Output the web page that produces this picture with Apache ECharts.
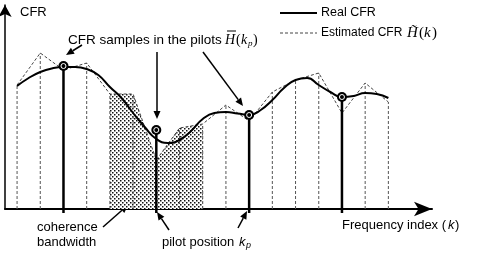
<!DOCTYPE html>
<html><head><meta charset="utf-8">
<script src="https://cdn.jsdelivr.net/npm/echarts@6/dist/echarts.min.js"></script>
<style>html,body{margin:0;padding:0;background:#fff}#c{width:485px;height:253px}</style>
</head><body><div id="c"></div>
<script>
// ---- data ----
const realK = [0,0.5,1,1.5,2,2.5,3,3.5,4,4.5,5,5.5,6,6.5,7,7.5,8,8.5,9,9.5,10,10.5,11,11.5,12,12.5,13,13.5,14,14.5,15,15.5,16];
const realCFR = [6.15,6.55,6.85,7.03,7.10,7.10,7.00,6.70,6.10,5.55,4.80,4.10,3.50,3.30,3.45,3.90,4.50,4.80,4.85,4.78,4.70,4.95,5.45,6.05,6.45,6.55,6.20,5.85,5.60,5.65,5.80,5.75,5.55];
const estK = [0,1,2,3,4,5,6,7,8,9,10,11,12,13,14,15,16];
const estCFR = [6.20,7.80,6.95,7.30,5.75,5.75,2.45,4.05,4.25,5.20,4.40,5.85,6.45,6.80,4.80,6.30,5.35];
const pilotK = [2,6,10,14];
const pilotCFR = [7.15,3.95,4.70,5.60];
const cohStart = 4, cohEnd = 8;   // coherence bandwidth M (in subcarriers)
const seriesNames = ['Real CFR','Estimated CFR'];

// ---- derived ----
const realData = realK.map((k,i)=>[k,realCFR[i]]);
const estData = estK.map((k,i)=>[k,estCFR[i]]);
const cohData = estData.filter(d=>d[0]>=cohStart && d[0]<=cohEnd);
const gridData = estData.filter(d=>pilotK.indexOf(d[0])<0);
const pilotData = pilotK.map((k,i)=>[k,pilotCFR[i]]);

// dotted pattern
const pc = document.createElement('canvas'); pc.width=4; pc.height=4;
const pctx = pc.getContext('2d'); pctx.fillStyle='#fff'; pctx.fillRect(0,0,4,4);
pctx.fillStyle='#111'; pctx.fillRect(0,0,1.5,1.5); pctx.fillRect(2,2,1.5,1.5);

const FONT = 'Liberation Sans, Arial, sans-serif';
const SERIF = 'Liberation Serif, Times New Roman, serif';

function arrow(x1,y1,x2,y2,lw){
  const dx=x2-x1, dy=y2-y1, L=Math.sqrt(dx*dx+dy*dy), ux=dx/L, uy=dy/L;
  const hl=8, hw=3.5;
  const bx=x2-ux*hl, by=y2-uy*hl;
  return [
    {type:'line', shape:{x1:x1,y1:y1,x2:bx,y2:by}, style:{stroke:'#000',lineWidth:lw||1.5}},
    {type:'polygon', shape:{points:[[x2,y2],[bx-uy*hw,by+ux*hw],[bx+uy*hw,by-ux*hw]]}, style:{fill:'#000'}}
  ];
}
function txt(x,y,s,size,extra){
  return {type:'text', x:x, y:y, style:Object.assign({text:s, fontFamily:FONT, fontSize:size||13, fill:'#000', verticalAlign:'middle', align:'left'}, extra||{})};
}

const chart = echarts.init(document.getElementById('c'), null, {renderer:'canvas'});
const vline = (color,width,dash,ymin)=>function(params,api){
  const x=api.value(0), y=api.value(1);
  const p0=api.coord([x,ymin]), p1=api.coord([x,y]);
  return {type:'line', shape:{x1:p0[0],y1:p0[1],x2:p1[0],y2:p1[1]}, style:{stroke:color,lineWidth:width,lineDash:dash}};
};

let graphics = [];
graphics.push(txt(20,12,'CFR',13));
graphics.push(txt(68,40,'CFR samples in the pilots',13.5));
graphics.push(txt(225,40,'H',14,{fontFamily:SERIF,fontStyle:'italic'}));
graphics.push({type:'line',shape:{x1:227,y1:31,x2:236,y2:31},style:{stroke:'#000',lineWidth:1}});
graphics.push(txt(236,40,'(',14,{fontFamily:SERIF}));
graphics.push(txt(241,40,'k',14,{fontFamily:SERIF,fontStyle:'italic'}));
graphics.push(txt(248,44,'p',9,{fontFamily:SERIF,fontStyle:'italic'}));
graphics.push(txt(253,40,')',14,{fontFamily:SERIF}));
graphics.push(txt(151,192,'M',13,{fontStyle:'italic'}));
graphics.push(txt(37,227,'coherence',13));
graphics.push(txt(37,242,'bandwidth',13));
graphics.push(txt(162,242,'pilot position',13));
graphics.push(txt(239,242,'k',13,{fontStyle:'italic'}));
graphics.push(txt(246,245,'p',9,{fontStyle:'italic'}));
graphics.push(txt(342,225,'Frequency index (',13));
graphics.push(txt(448,225,'k',13,{fontStyle:'italic'}));
graphics.push(txt(455,225,')',13));
// legend
graphics.push({type:'line',shape:{x1:280,y1:13,x2:317,y2:13},style:{stroke:'#000',lineWidth:2}});
graphics.push(txt(321,13,seriesNames[0],12.5));
graphics.push({type:'line',shape:{x1:280,y1:33,x2:317,y2:33},style:{stroke:'#444',lineWidth:1,lineDash:[3,2]}});
graphics.push(txt(321,33,seriesNames[1],12));
graphics.push(txt(407,33,'H\u0303',15,{fontFamily:SERIF,fontStyle:'italic'}));
graphics.push(txt(419,33,'(',15,{fontFamily:SERIF}));
graphics.push(txt(424,33,'k',15,{fontFamily:SERIF,fontStyle:'italic'}));
graphics.push(txt(432,33,')',15,{fontFamily:SERIF}));
graphics = graphics.concat(
  arrow(82,45,66,55), arrow(157,52,157,119), arrow(203,52,243,106),
  arrow(148,192,110,192,1.2), arrow(165,192,203,192,1.2),
  arrow(103,227,128,205), arrow(169,230,157,212), arrow(238,228,247,211)
);

chart.setOption({
  animation:false,
  grid:{left:5,right:53,top:5,bottom:44,containLabel:false},
  xAxis:{type:'value',min:-0.52,max:17.88,
    axisLine:{show:true,onZero:true,lineStyle:{color:'#000',width:2},symbol:['none','arrow'],symbolSize:[11,18]},
    axisTick:{show:false},axisLabel:{show:false},splitLine:{show:false}},
  yAxis:{type:'value',min:0,max:10.2,
    axisLine:{show:true,onZero:false,lineStyle:{color:'#000',width:1.5},symbol:['none','arrow'],symbolSize:[10,12]},
    axisTick:{show:false},axisLabel:{show:false},splitLine:{show:false}},
  series:[
    {type:'line',name:'coherence',data:cohData,symbol:'none',lineStyle:{width:0,opacity:0},
      areaStyle:{color:{image:pc,repeat:'repeat'},opacity:1},z:1,silent:true},
    {type:'custom',name:'grid',data:gridData,renderItem:vline('#555',1,[3,2],0),z:2,clip:false},
    {type:'line',name:seriesNames[1],data:estData,symbol:'none',smooth:false,
      lineStyle:{color:'#444',width:1,type:[3,2]},z:3},
    {type:'line',name:seriesNames[0],data:realData,symbol:'none',smooth:0.5,
      lineStyle:{color:'#000',width:2},z:4},
    {type:'custom',name:'stems',data:pilotData,renderItem:vline('#000',2.5,null,-0.2),z:5,clip:false},
    {type:'scatter',name:'pilots',data:pilotData,symbol:'circle',symbolSize:10,
      itemStyle:{color:'#000',opacity:1},z:6},
    {type:'scatter',name:'pilotsInner',data:pilotData,symbol:'circle',symbolSize:5,
      itemStyle:{color:'#000',borderColor:'#fff',borderWidth:1,opacity:1},z:7}
  ],
  graphic:graphics
});
</script></body></html>
